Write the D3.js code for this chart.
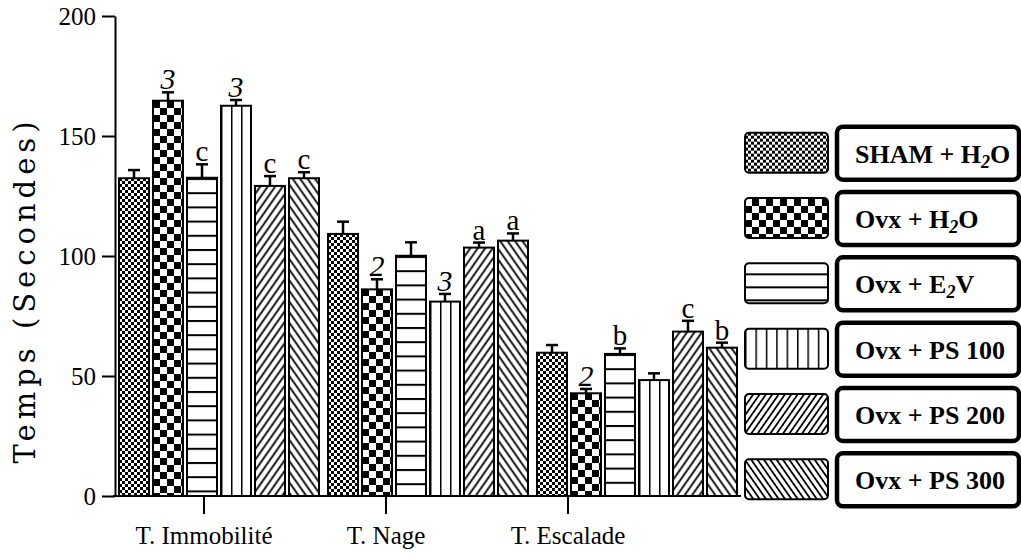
<!DOCTYPE html>
<html>
<head>
<meta charset="utf-8">
<script src="https://cdn.jsdelivr.net/npm/d3@7"></script>
<style>
    body { margin: 0; background: #fff; }
    svg { display: block; }
</style>
</head>
<body>
<script>
const categories = ['T. Immobilité', 'T. Nage', 'T. Escalade'];
const groups = ['SHAM + H2O', 'Ovx + H2O', 'Ovx + E2V', 'Ovx + PS 100', 'Ovx + PS 200', 'Ovx + PS 300'];
const patternKinds = ['fine', 'coarse', 'hlines', 'vlines', 'diagR', 'diagL'];

// mean values per test, one entry per group
const immobilite = [132.4, 164.7, 132.6, 162.6, 129.2, 132.4];
const nage = [109.2, 86.1, 100.1, 81.0, 103.5, 106.4];
const escalade = [59.7, 42.8, 59.2, 48.3, 68.5, 61.8];

// standard error (upper bars only)
const immobiliteErr = [3.4, 3.5, 5.6, 2.4, 4.1, 2.5];
const nageErr = [5.1, 4.2, 5.6, 3.2, 2.1, 3.0];
const escaladeErr = [3.2, 1.8, 2.3, 2.8, 4.5, 2.1];

// significance letters above the bars
const immobiliteSig = ['', '3', 'c', '3', 'c', 'c'];
const nageSig = ['', '2', '', '3', 'a', 'a'];
const escaladeSig = ['', '2', 'b', '', 'c', 'b'];

const yTicks = [0, 50, 100, 150, 200];

const values = [immobilite, nage, escalade];
const errors = [immobiliteErr, nageErr, escaladeErr];
const sigs = [immobiliteSig, nageSig, escaladeSig];

const width = 1021;
const height = 560;

const svg = d3.select('body')
    .append('svg')
    .attr('width', width)
    .attr('height', height);

const defs = svg.append('defs');

const y = d3.scaleLinear().domain([0, 200]).range([496, 16]);
const x0 = d3.scaleBand().domain(categories).range([114, 741]);
const x1 = d3.scaleBand().domain(groups).range([5, 205]).paddingInner(4 / 34);
// GraphPad put the category ticks on their own spacing
const xTick = d3.scaleBand().domain(categories).range([113, 659]);

function addPattern(id, kind, ox, oy, legend) {
    const p = defs.append('pattern')
        .attr('id', id)
        .attr('patternUnits', 'userSpaceOnUse');
    if (kind === 'fine') {
        p.attr('x', ox).attr('y', oy).attr('width', 6).attr('height', 6);
        p.append('rect').attr('width', 6).attr('height', 6).attr('fill', '#fff');
        p.append('rect').attr('width', 3).attr('height', 3).attr('fill', '#000');
        p.append('rect').attr('x', 3).attr('y', 3).attr('width', 3).attr('height', 3).attr('fill', '#000');
    } else if (kind === 'coarse') {
        p.attr('x', ox).attr('y', oy).attr('width', 14).attr('height', 14);
        p.append('rect').attr('width', 14).attr('height', 14).attr('fill', '#fff');
        p.append('rect').attr('width', 7).attr('height', 7).attr('fill', '#000');
        p.append('rect').attr('x', 7).attr('y', 7).attr('width', 7).attr('height', 7).attr('fill', '#000');
    } else if (kind === 'hlines') {
        const s = legend ? 13 : 14.2;
        p.attr('x', ox).attr('y', oy).attr('width', 10).attr('height', s);
        p.append('rect').attr('width', 10).attr('height', s).attr('fill', '#fff');
        p.append('line').attr('x1', 0).attr('x2', 10).attr('y1', 0).attr('y2', 0)
            .attr('stroke', '#000').attr('stroke-width', 4);
    } else if (kind === 'vlines') {
        const s = legend ? 10.4 : 10;
        p.attr('x', ox).attr('y', oy).attr('width', s).attr('height', 10);
        p.append('rect').attr('width', s).attr('height', 10).attr('fill', '#fff');
        p.append('line').attr('x1', 0).attr('x2', 0).attr('y1', 0).attr('y2', 10)
            .attr('stroke', '#000').attr('stroke-width', 3);
    } else {
        const s = legend ? 5.2 : 6.1;
        p.attr('width', s).attr('height', 10)
            .attr('patternTransform', `rotate(${kind === 'diagR' ? 35 : -35})`);
        p.append('rect').attr('width', s).attr('height', 10).attr('fill', '#fff');
        p.append('line').attr('x1', s / 2).attr('x2', s / 2).attr('y1', 0).attr('y2', 10)
            .attr('stroke', '#000').attr('stroke-width', 1.8);
    }
}

// bars
const bars = [];
categories.forEach((c, ci) => {
    groups.forEach((g, gi) => {
        bars.push({
            cat: c, group: g, ci, gi,
            value: values[ci][gi],
            err: errors[ci][gi],
            sig: sigs[ci][gi]
        });
    });
});

bars.forEach(d => {
    const bx = Math.round(x0(d.cat) + x1(d.group));
    addPattern(`pat-${d.ci}-${d.gi}`, patternKinds[d.gi], bx, Math.round(y(d.value)), false);
});

const barG = svg.append('g')
    .selectAll('g')
    .data(bars)
    .join('g');

barG.append('rect')
    .attr('x', d => Math.round(x0(d.cat) + x1(d.group)))
    .attr('y', d => y(d.value))
    .attr('width', x1.bandwidth())
    .attr('height', d => y(0) - y(d.value))
    .attr('fill', d => `url(#pat-${d.ci}-${d.gi})`)
    .attr('stroke', '#000')
    .attr('stroke-width', 2);

const cx = d => Math.round(x0(d.cat) + x1(d.group)) + x1.bandwidth() / 2;

barG.append('line')
    .attr('x1', cx).attr('x2', cx)
    .attr('y1', d => y(d.value)).attr('y2', d => y(d.value + d.err))
    .attr('stroke', '#000').attr('stroke-width', 2.5);

barG.append('line')
    .attr('x1', d => cx(d) - 6).attr('x2', d => cx(d) + 6)
    .attr('y1', d => y(d.value + d.err)).attr('y2', d => y(d.value + d.err))
    .attr('stroke', '#000').attr('stroke-width', 2.5);

barG.append('text')
    .attr('x', cx)
    .attr('y', d => y(d.value + d.err) - 3)
    .attr('text-anchor', 'middle')
    .style('font-family', '"Liberation Serif", serif')
    .style('font-size', d => /\d/.test(d.sig) ? '30px' : '29px')
    .style('font-style', d => /\d/.test(d.sig) ? 'italic' : 'normal')
    .text(d => d.sig);

// y axis
const yAxis = svg.append('g')
    .attr('transform', 'translate(115,0)')
    .call(d3.axisLeft(y).tickValues(yTicks).tickSize(13).tickSizeOuter(0).tickPadding(6));
yAxis.select('.domain').attr('stroke-width', 2);
yAxis.selectAll('.tick line').attr('stroke-width', 2);
yAxis.selectAll('.tick text')
    .style('font-family', '"Liberation Serif", serif')
    .style('font-size', '25px')
    .attr('fill', '#000');

svg.append('text')
    .attr('transform', 'translate(35,290) rotate(-90)')
    .attr('text-anchor', 'middle')
    .style('font-family', '"DejaVu Serif", serif')
    .style('font-size', '29px')
    .style('letter-spacing', '5px')
    .text('Temps (Secondes)');

// x axis
svg.append('line')
    .attr('x1', 113).attr('x2', x0.range()[1])
    .attr('y1', y(0)).attr('y2', y(0))
    .attr('stroke', '#000').attr('stroke-width', 2);

const xAxis = svg.append('g')
    .attr('transform', `translate(0,${y(0)})`)
    .call(d3.axisBottom(xTick).tickSize(18).tickPadding(12));
xAxis.select('.domain').remove();
xAxis.selectAll('.tick line').attr('stroke-width', 2);
xAxis.selectAll('.tick text')
    .style('font-family', '"Liberation Serif", serif')
    .style('font-size', '25px')
    .attr('fill', '#000');

// legend
const rows = d3.scaleBand().domain(groups).range([120, 512]);

const legend = svg.append('g')
    .selectAll('g')
    .data(groups)
    .join('g')
    .attr('transform', d => `translate(0,${rows(d) + rows.bandwidth() / 2})`);

groups.forEach((g, gi) => {
    const cy = rows(g) + rows.bandwidth() / 2;
    addPattern(`leg-${gi}`, patternKinds[gi], 745, Math.round(cy - 20), true);
});

legend.append('rect')
    .attr('x', 745).attr('y', -20)
    .attr('width', 83).attr('height', 40)
    .attr('rx', 4)
    .attr('fill', (d, i) => `url(#leg-${i})`)
    .attr('stroke', '#000').attr('stroke-width', 2);

legend.append('rect')
    .attr('x', 837).attr('y', -26)
    .attr('width', 182).attr('height', 53)
    .attr('rx', 6)
    .attr('fill', '#fff')
    .attr('stroke', '#000').attr('stroke-width', 4.5);

const labels = legend.append('text')
    .attr('x', 855).attr('y', 10)
    .style('font-family', '"Liberation Serif", serif')
    .style('font-size', '26px')
    .style('font-weight', 'bold');

labels.each(function (d) {
    const t = d3.select(this);
    const parts = d.split(/(?<=[HE])2/);
    t.append('tspan').text(parts[0]);
    if (parts.length > 1) {
        t.append('tspan').attr('dy', 5).style('font-size', '18px').style('font-style', 'italic').text('2');
        t.append('tspan').attr('dy', -5).text(parts[1]);
    }
});
</script>
</body>
</html>
